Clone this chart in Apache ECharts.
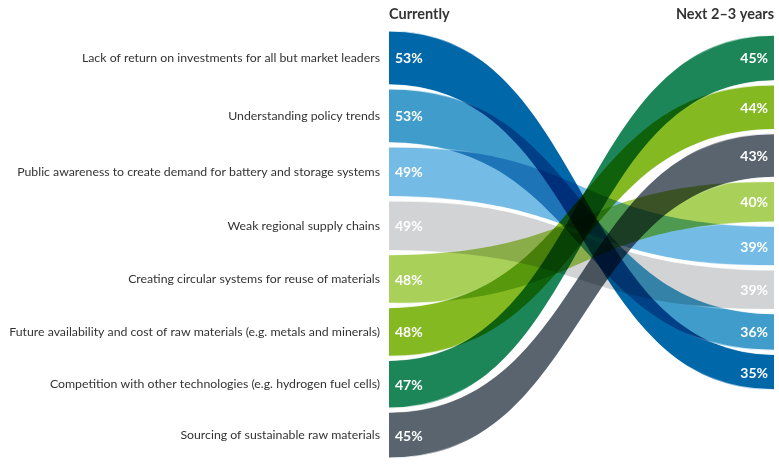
<!DOCTYPE html>
<html><head><meta charset="utf-8">
<script src="https://cdn.jsdelivr.net/npm/echarts@6/dist/echarts.min.js"></script>
<style>html,body{margin:0;padding:0;background:#fff}#c{width:779px;height:464px}</style>
</head><body><div id="c"></div>
<script>
// ---- data ----
const categories = [
  'Lack of return on investments for all but market leaders',
  'Understanding policy trends',
  'Public awareness to create demand for battery and storage systems',
  'Weak regional supply chains',
  'Creating circular systems for reuse of materials',
  'Future availability and cost of raw materials (e.g. metals and minerals)',
  'Competition with other technologies (e.g. hydrogen fuel cells)',
  'Sourcing of sustainable raw materials'
];
const currentValues = [53, 53, 49, 49, 48, 48, 47, 45];
const futureValues  = [35, 36, 39, 39, 40, 44, 45, 43];
const headerLabels = ['Currently', 'Next 2\u20133 years'];

// ---- styles / layout ----
const palette = ['#0067a9', '#409dcb', '#74bce6', '#d1d3d4', '#a9d159', '#84b922', '#1c8659', '#59646e'];
const GAP = 4, RIGHT_START = 4, K = 0.52, FONT = 'Lato';

const n = categories.length;
const leftTop = [];
let acc = 0;
currentValues.forEach(v => { leftTop.push(acc); acc += v + GAP; });
const total = acc - GAP;
const order = categories.map((_, i) => i).sort((a, b) => futureValues[b] - futureValues[a] || a - b);
const rightTop = new Array(n);
acc = RIGHT_START;
order.forEach(i => { rightTop[i] = acc; acc += futureValues[i] + GAP; });

function bez(p0, p1, p2, p3, t) {
  const u = 1 - t;
  return u*u*u*p0 + 3*u*u*t*p1 + 3*u*t*t*p2 + t*t*t*p3;
}

const strokeGrad = () => new echarts.graphic.LinearGradient(0, 0, 1, 0, [
  { offset: 0, color: 'rgba(255,255,255,1)' },
  { offset: 0.24, color: 'rgba(255,255,255,0)' },
  { offset: 0.76, color: 'rgba(255,255,255,0)' },
  { offset: 1, color: 'rgba(255,255,255,1)' }
]);

function renderItem(params, api) {
  const i = api.value(0);
  const a0 = api.coord([0, leftTop[i]]), a1 = api.coord([0, leftTop[i] + currentValues[i]]);
  const b0 = api.coord([1, rightTop[i]]), b1 = api.coord([1, rightTop[i] + futureValues[i]]);
  const xL = a0[0], xR = b0[0], dx = xR - xL;
  const c1 = xL + dx * K, c2 = xR - dx * K;
  const N = 80, pts = [];
  for (let s = 0; s <= N; s++) {
    const t = s / N;
    pts.push([bez(xL, c1, c2, xR, t), bez(a0[1], a0[1], b0[1], b0[1], t)]);
  }
  for (let s = N; s >= 0; s--) {
    const t = s / N;
    pts.push([bez(xL, c1, c2, xR, t), bez(a1[1], a1[1], b1[1], b1[1], t)]);
  }
  const edge = (yl, yr) => ({
    type: 'bezierCurve',
    shape: { x1: xL, y1: yl, cpx1: c1, cpy1: yl, cpx2: c2, cpy2: yr, x2: xR, y2: yr },
    style: { stroke: strokeGrad(), lineWidth: 1.2, fill: null },
    silent: true
  });
  const pctStyle = { font: 'bold 14px ' + FONT, fill: '#ffffff', verticalAlign: 'middle' };
  return {
    type: 'group',
    children: [
      { type: 'polygon', name: 'ribbon', shape: { points: pts }, style: { fill: palette[i], blend: 'multiply' }, silent: true },
      edge(a0[1], b0[1]),
      edge(a1[1], b1[1]),
      { type: 'text', x: xL - 9, y: (a0[1] + a1[1]) / 2,
        style: { text: categories[i], font: '12.3px ' + FONT, fill: '#333333', align: 'right', verticalAlign: 'middle' } },
      { type: 'text', x: xL + 6, y: (a0[1] + a1[1]) / 2 + 1, z2: 100,
        style: Object.assign({ text: currentValues[i] + '%', align: 'left' }, pctStyle) },
      { type: 'text', x: xR - 6, y: (b0[1] + b1[1]) / 2 + 1, z2: 100,
        style: Object.assign({ text: futureValues[i] + '%', align: 'right' }, pctStyle) }
    ]
  };
}

const chart = echarts.init(document.getElementById('c'));
const titleStyle = { fontFamily: FONT, fontSize: 14.5, fontWeight: 'bold', color: '#333333' };
chart.setOption({
  animation: false,
  backgroundColor: '#ffffff',
  title: [
    { text: headerLabels[0], left: 389, top: 7, padding: 0, textStyle: titleStyle },
    { text: headerLabels[1], right: 5, top: 7, padding: 0, textStyle: titleStyle }
  ],
  grid: { left: 389, right: 5, top: 31, bottom: 6 },
  xAxis: { type: 'value', min: 0, max: 1, show: false },
  yAxis: { type: 'value', min: 0, max: total, inverse: true, show: false },
  series: [{
    type: 'custom',
    renderItem: renderItem,
    data: categories.map((_, i) => [i]),
    silent: true,
    clip: false
  }]
});

// make overlapping ribbons darken each other (multiply blending)
const zr = chart.getZr();
zr.storage.getDisplayList(true).forEach(el => {
  if (el.type === 'polygon') {
    el.style.blend = 'multiply';
    el.dirty();
  }
});
zr.refreshImmediately();
</script>
</body></html>
